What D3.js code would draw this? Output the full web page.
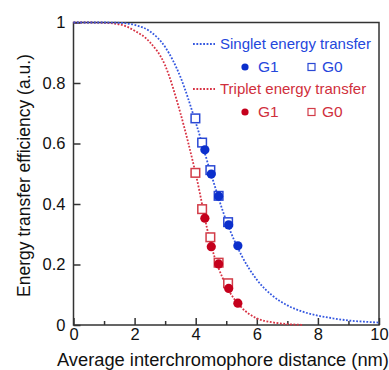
<!DOCTYPE html>
<html>
<head>
<meta charset="utf-8">
<script src="https://cdn.jsdelivr.net/npm/d3@7"></script>
<style>
	body { margin: 0; background: #fff; }
	svg { display: block; }
	text { font-family: "Liberation Sans", Arial, Helvetica, sans-serif; }
</style>
</head>
<body>
<svg id="chart" width="389" height="370"></svg>
<script>
// fitted curves, every 0.5 nm
const fitX = [0, 0.5, 1, 1.5, 2, 2.5, 3, 3.5, 4, 4.5, 5, 5.5, 6, 6.5, 7, 7.5, 8, 8.5, 9, 9.5, 10];
const singletFit = [1, 1, 1, 0.999, 0.992, 0.971, 0.919, 0.82, 0.67, 0.5, 0.345, 0.23, 0.15, 0.098, 0.065, 0.044, 0.031, 0.022, 0.015, 0.011, 0.008];
const tripletFit = [1, 1, 0.999, 0.994, 0.973, 0.935, 0.858, 0.7, 0.5, 0.265, 0.13, 0.058, 0.022, 0.009, 0.003, 0.0005];

// measured points
const g0X = [3.99, 4.21, 4.48, 4.75, 5.06];
const g1X = [4.3, 4.51, 4.75, 5.08, 5.38];
const singletG0 = [0.683, 0.603, 0.512, 0.427, 0.34];
const singletG1 = [0.579, 0.499, 0.426, 0.331, 0.262];
const tripletG0 = [0.503, 0.383, 0.29, 0.206, 0.138];
const tripletG1 = [0.353, 0.259, 0.202, 0.121, 0.072];

const xTicks = [0, 2, 4, 6, 8, 10];
const xMinorTicks = [1, 3, 5, 7, 9];
const yTicks = [0, 0.2, 0.4, 0.6, 0.8, 1];

const BLUE = "#0b2fcc", BLUE_LINE = "#3558e0", BLUE_TEXT = "#2447dc";
const RED = "#c5001c", RED_LINE = "#d83344", RED_TEXT = "#d02f3c";
const AXIS = "#333";

const svg = d3.select("#chart");
const plotLeft = 73.5, plotRight = 379, plotTop = 22.5, plotBottom = 325;

const x = d3.scaleLinear().domain([0, 10]).range([plotLeft, plotRight]);
const y = d3.scaleLinear().domain([0, 1]).range([plotBottom, plotTop]);

// frame
svg.append("rect")
	.attr("x", plotLeft).attr("y", plotTop)
	.attr("width", plotRight - plotLeft).attr("height", plotBottom - plotTop)
	.attr("fill", "none")
	.attr("stroke", AXIS)
	.attr("stroke-width", 1.5);

// axes, ticks pointing inward
svg.append("g")
	.attr("transform", "translate(0," + plotBottom + ")")
	.call(d3.axisBottom(x).tickValues(xTicks).tickFormat(d3.format("d")).tickSizeInner(-7).tickSizeOuter(0).tickPadding(3));
svg.append("g")
	.attr("transform", "translate(0," + plotBottom + ")")
	.call(d3.axisBottom(x).tickValues(xMinorTicks).tickFormat("").tickSizeInner(-4).tickSizeOuter(0));
svg.append("g")
	.attr("transform", "translate(" + plotLeft + ",0)")
	.call(d3.axisLeft(y).tickValues(yTicks).tickFormat(d3.format("~g")).tickSizeInner(-7).tickSizeOuter(0).tickPadding(8));

svg.selectAll(".domain").remove();
svg.selectAll(".tick line").attr("stroke", AXIS).attr("stroke-width", 1.5);
svg.selectAll(".tick text")
	.attr("fill", "#111")
	.attr("font-size", "16.5px")
	.style("font-family", "'Liberation Sans', Arial, sans-serif");

// fitted curves (dotted)
const line = d3.line()
	.x(function(d) { return x(d[0]); })
	.y(function(d) { return y(d[1]); })
	.curve(d3.curveMonotoneX);

function drawFit(values, color) {
	const pts = values.map(function(v, i) { return [fitX[i], v]; });
	svg.append("path")
		.datum(pts)
		.attr("d", line)
		.attr("fill", "none")
		.attr("stroke", color)
		.attr("stroke-width", 1.8)
		.attr("stroke-dasharray", "1.8,1.6");
}
drawFit(tripletFit, RED_LINE);
drawFit(singletFit, BLUE_LINE);

// squares first, circles on top
function drawSquares(xs, ys, color) {
	svg.append("g").selectAll("rect")
		.data(xs.map(function(v, i) { return [v, ys[i]]; }))
		.enter().append("rect")
			.attr("x", function(d) { return x(d[0]) - 4.3; })
			.attr("y", function(d) { return y(d[1]) - 4.3; })
			.attr("width", 8.6)
			.attr("height", 8.6)
			.attr("fill", "#fff")
			.attr("stroke", color)
			.attr("stroke-width", 1.5);
}
function drawCircles(xs, ys, color) {
	svg.append("g").selectAll("circle")
		.data(xs.map(function(v, i) { return [v, ys[i]]; }))
		.enter().append("circle")
			.attr("cx", function(d) { return x(d[0]); })
			.attr("cy", function(d) { return y(d[1]); })
			.attr("r", 4.6)
			.attr("fill", color);
}
drawSquares(g0X, tripletG0, "#d23c48");
drawSquares(g0X, singletG0, "#2a48d4");
drawCircles(g1X, tripletG1, RED);
drawCircles(g1X, singletG1, BLUE);

// legend
function legendBlock(y0, label, lineColor, textColor, markColor, squareColor) {
	svg.append("line")
		.attr("x1", 193).attr("x2", 215)
		.attr("y1", y0).attr("y2", y0)
		.attr("stroke", lineColor)
		.attr("stroke-width", 1.8)
		.attr("stroke-dasharray", "1.8,1.6");
	svg.append("text")
		.attr("x", 220).attr("y", y0)
		.attr("dy", "0.35em")
		.attr("font-size", "15px")
		.attr("fill", textColor)
		.text(label);

	const y1 = y0 + 23;
	svg.append("circle")
		.attr("cx", 245).attr("cy", y1)
		.attr("r", 3.6)
		.attr("fill", markColor);
	svg.append("text")
		.attr("x", 258).attr("y", y1)
		.attr("dy", "0.35em")
		.attr("font-size", "15.5px")
		.attr("fill", textColor)
		.text("G1");
	svg.append("rect")
		.attr("x", 308).attr("y", y1 - 3.5)
		.attr("width", 7).attr("height", 7)
		.attr("fill", "#fff")
		.attr("stroke", squareColor)
		.attr("stroke-width", 1.2);
	svg.append("text")
		.attr("x", 322).attr("y", y1)
		.attr("dy", "0.35em")
		.attr("font-size", "15.5px")
		.attr("fill", textColor)
		.text("G0");
}
legendBlock(44, "Singlet energy transfer", BLUE_LINE, BLUE_TEXT, BLUE, "#2a48d4");
legendBlock(89, "Triplet energy transfer", RED_LINE, RED_TEXT, RED, "#d23c48");

// axis titles
svg.append("text")
	.attr("x", 57).attr("y", 366)
	.attr("font-size", "18.3px")
	.attr("fill", "#111")
	.text("Average interchromophore distance (nm)");

svg.append("text")
	.attr("transform", "translate(30," + 175.5 + ") rotate(-90)")
	.attr("text-anchor", "middle")
	.attr("font-size", "17.5px")
	.attr("fill", "#111")
	.text("Energy transfer efficiency (a.u.)");
</script>
</body>
</html>
